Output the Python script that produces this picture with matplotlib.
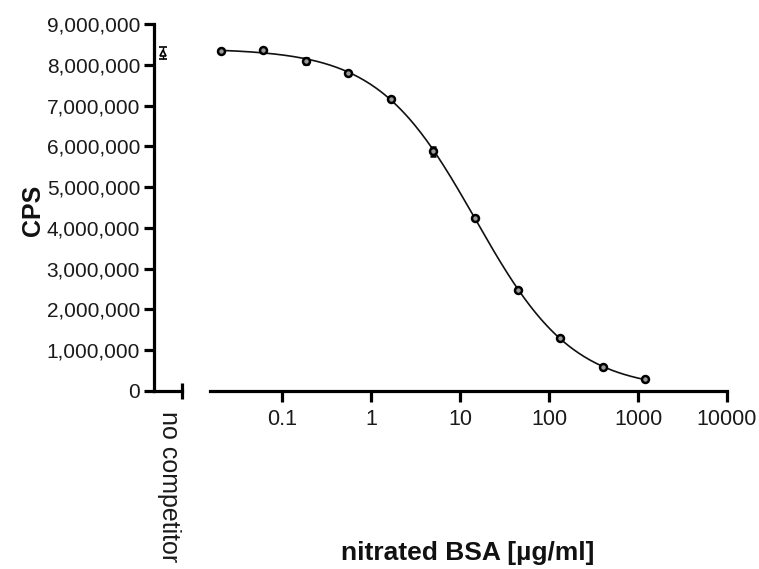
import numpy as np
import matplotlib
matplotlib.use('Agg')
import matplotlib.pyplot as plt

plt.rcParams['font.family'] = ['Liberation Sans', 'DejaVu Sans']

# nitrated BSA, 3-fold dilutions (ug/ml)
conc = [0.0203, 0.061, 0.183, 0.549, 1.65, 4.94, 14.8, 44.4, 133, 400, 1200]
cps = [8340000, 8360000, 8090000, 7810000, 7170000, 5880000, 4250000,
       2480000, 1300000, 580000, 290000]
cps_err = [30000, 30000, 70000, 40000, 40000, 110000, 40000, 40000, 30000, 30000, 30000]

nocomp_cps = 8280000
nocomp_err = 150000

yticks = [0, 1000000, 2000000, 3000000, 4000000, 5000000, 6000000, 7000000, 8000000, 9000000]
xticks = [0.1, 1, 10, 100, 1000, 10000]
xticklabels = ['0.1', '1', '10', '100', '1000', '10000']

# 4 parameter logistic fit (grid over ec50/hill, linear solve for top/bottom)
lx = np.log10(conc)
yy = np.array(cps, dtype=float)
best = None
for lec in np.linspace(0.5, 1.8, 131):
    for h in np.linspace(0.5, 1.5, 101):
        s = 1.0 / (1.0 + 10 ** ((lx - lec) * h))
        A = np.column_stack([np.ones_like(s), s])
        coef, res, rk, sv = np.linalg.lstsq(A, yy, rcond=None)
        err = np.sum((A @ coef - yy) ** 2)
        if best is None or err < best[0]:
            best = (err, lec, h, coef)
_, lec, h, coef = best
xfit = np.logspace(np.log10(conc[0]), np.log10(conc[-1]), 300)
yfit = coef[0] + coef[1] / (1.0 + 10 ** ((np.log10(xfit) - lec) * h))

W, H = 759, 569
fig = plt.figure(figsize=(W / 100, H / 100), dpi=100)
bot = (H - 391) / H
hgt = (391 - 24) / H
ax1 = fig.add_axes([154 / W, bot, 28 / W, hgt])
ax2 = fig.add_axes([210 / W, bot, (727 - 210) / W, hgt])

lw = 2.3
for ax in (ax1, ax2):
    ax.set_ylim(0, 9000000)
    for s in ['top', 'right']:
        ax.spines[s].set_visible(False)
    ax.spines['bottom'].set_linewidth(lw)
    ax.spines['left'].set_linewidth(lw)
    ax.patch.set_alpha(0)

# left panel: no competitor
ax1.set_xlim(0, 1)
ax1.errorbar([0.32], [nocomp_cps], yerr=[nocomp_err], fmt='^', ms=5,
             mfc='white', mec='black', mew=1.2, color='black', capsize=3,
             elinewidth=1, clip_on=False)
ax1.set_yticks(yticks)
ax1.set_yticklabels([f'{v:,}' for v in yticks], fontsize=15, color='#1a1a1a')
ax1.tick_params(axis='y', direction='out', length=7, width=lw, pad=3)
ax1.set_xticks([])
ax1.plot([1], [0], marker='|', ms=12, mew=2.3, color='black',
         transform=ax1.get_xaxis_transform(), clip_on=False)
ax1.text(0.55, -0.055, 'no competitor', transform=ax1.transAxes, rotation=-90,
         ha='center', va='top', fontsize=18, color='#1a1a1a')

# right panel: titration
ax2.spines['left'].set_visible(False)
ax2.set_xscale('log')
ax2.set_xlim(10 ** (-1 - 72 / 88.4), 10000)
ax2.plot(xfit, yfit, color='#111111', lw=1.2)
ax2.errorbar(conc, cps, yerr=cps_err, fmt='o', ms=5, mfc='#999999',
             mec='black', mew=1.8, color='black', capsize=2.5, elinewidth=1)
ax2.set_yticks([])
ax2.set_xticks(xticks)
ax2.set_xticklabels(xticklabels, fontsize=15.5, color='#1a1a1a')
ax2.xaxis.set_minor_locator(matplotlib.ticker.NullLocator())
ax2.tick_params(axis='x', direction='out', length=8, width=lw, pad=5)
ax2.plot([0], [0], marker='|', ms=12, mew=2.3, color='black',
         transform=ax2.get_xaxis_transform(), clip_on=False)

fig.text(33 / W, 1 - 210 / H, 'CPS', rotation=90, ha='center', va='center',
         fontsize=18, fontweight='bold', color='#111111')
fig.text(468 / W, 1 - 553 / H, 'nitrated BSA [\u00b5g/ml]', ha='center', va='center',
         fontsize=19, fontweight='bold', color='#111111')

fig.savefig('out.png', dpi=100)
